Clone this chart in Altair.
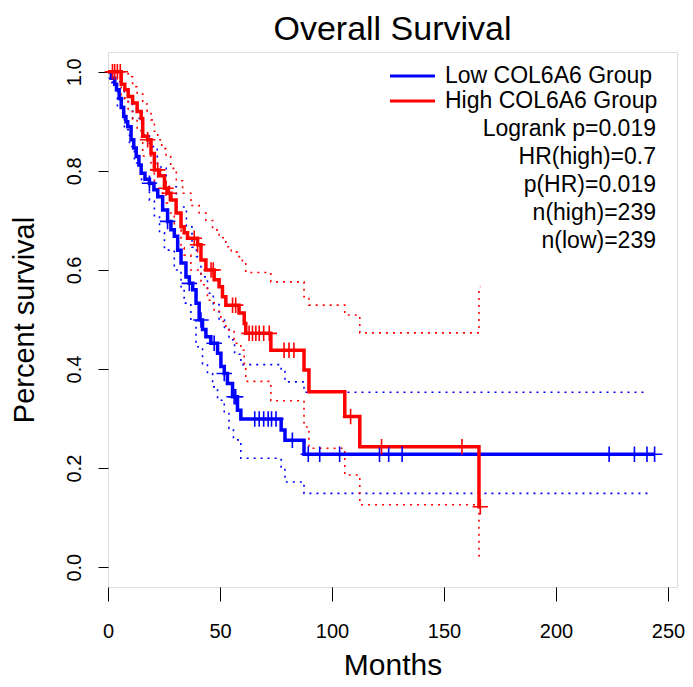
import altair as alt
import pandas as pd

LOW = "Low COL6A6 Group"
HIGH = "High COL6A6 Group"

# ---- Kaplan-Meier estimate, Low group (step starts: months, survival) ----
low_t = [0, 1.5, 3, 3.8, 5, 5.9, 7, 8, 8.8, 10.3, 11.5, 12.6, 13.8, 14.8, 16.5, 18.5,
         20.5, 22.2, 24.4, 26.6, 28.1, 29.6, 31.1, 32.6, 34.8, 36.3, 37.8, 39.3, 40.7,
         42.2, 43.7, 45.9, 48.9, 50.4, 51.9, 53.3, 55.6, 57.8, 59.3, 77.3, 79, 87.5, 244]
low_s = [1.0, 0.987, 0.975, 0.964, 0.946, 0.928, 0.91, 0.899, 0.889, 0.863, 0.846, 0.829,
         0.812, 0.795, 0.783, 0.775, 0.762, 0.748, 0.721, 0.698, 0.681, 0.668, 0.640, 0.614,
         0.586, 0.573, 0.560, 0.533, 0.499, 0.480, 0.465, 0.452, 0.432, 0.405, 0.391, 0.371,
         0.344, 0.317, 0.299, 0.277, 0.256, 0.228, 0.228]
low_cens = [18.5, 26.6, 36.3, 41.5, 47.4, 51.9, 56.3, 57, 65.5, 67.5, 69.5, 71.5, 73, 75,
            82.3, 89.4, 94.5, 103.4, 121.2, 125.3, 131.3, 223.7, 235, 240.6, 244]

# 95% CI, Low group
low_up_t = [0, 2, 7.3, 11, 15, 18.5, 22, 26, 30.5, 35, 37.5, 39.5, 41.5, 44.4, 47, 49.6,
            52, 54, 56.5, 59.3, 77.3, 79, 87.5, 241]
low_up_s = [1.0, 0.98, 0.94, 0.906, 0.873, 0.849, 0.808, 0.768, 0.727, 0.687, 0.646, 0.627,
            0.586, 0.553, 0.53, 0.499, 0.48, 0.459, 0.43, 0.409, 0.395, 0.374, 0.353, 0.353]
low_lo_t = [0, 0.7, 4.2, 7.3, 9.6, 11.8, 15, 18.5, 20.7, 23, 25.2, 29.6, 32.6, 34, 37, 39.3,
            42.2, 44.4, 46.7, 48.9, 51.9, 54, 56, 59.3, 77.3, 79, 87.5, 241]
low_lo_s = [1.0, 0.978, 0.93, 0.883, 0.849, 0.816, 0.782, 0.741, 0.707, 0.675, 0.64, 0.6,
            0.566, 0.533, 0.499, 0.445, 0.411, 0.391, 0.364, 0.337, 0.31, 0.28, 0.257, 0.22,
            0.2, 0.172, 0.149, 0.149]

# ---- Kaplan-Meier estimate, High group ----
high_t = [0, 5.9, 7.5, 9, 11, 13, 14.8, 15.5, 17.7, 19.2, 20.7, 23, 25.2, 26.6, 28.1, 30.4,
          32.6, 34, 35.5, 40, 41.5, 43.7, 47.4, 49.6, 51.1, 52.6, 58.5, 60.8, 61.5, 72.7,
          87.5, 89.7, 105.7, 112.4, 165.6, 166.2]
high_s = [1.0, 0.975, 0.964, 0.95, 0.937, 0.92, 0.906, 0.87, 0.863, 0.835, 0.802, 0.79,
          0.765, 0.755, 0.741, 0.715, 0.687, 0.675, 0.664, 0.651, 0.62, 0.60, 0.58, 0.566,
          0.546, 0.529, 0.513, 0.492, 0.472, 0.438, 0.398, 0.354, 0.304, 0.243, 0.122, 0.122]
high_cens = [2.0, 3.0, 4.2, 5.5, 17.7, 22.2, 25.9, 27.4, 38.5, 40, 46, 47, 55.6, 57,
             63, 64.5, 66, 67.5, 69.5, 72, 78.6, 80.8, 83, 108.3, 122.1, 158, 166.2]

# 95% CI, High group
high_up_t = [0, 9, 11, 13, 15.5, 17.5, 19.2, 20.7, 22.2, 24, 25.9, 28, 30.5, 33.3, 37, 40.7,
             43.7, 46.7, 49.6, 52.6, 55, 57.8, 60, 61.5, 72.7, 87.5, 89.7, 105.7, 112.4,
             165.6, 166.2]
high_up_s = [1.0, 0.99, 0.97, 0.955, 0.935, 0.92, 0.903, 0.88, 0.863, 0.845, 0.829, 0.805,
             0.78, 0.755, 0.73, 0.715, 0.70, 0.681, 0.665, 0.647, 0.636, 0.627, 0.614, 0.595,
             0.576, 0.546, 0.529, 0.509, 0.473, 0.566, 0.566]
high_lo_t = [0, 5.9, 7.5, 9, 11, 13, 14.8, 15.5, 19.2, 20.7, 24.4, 26.6, 29.6, 32.6, 34, 37,
             41.5, 44.4, 47.4, 50.4, 52.6, 56.3, 59.3, 60.8, 61.5, 72.7, 87.5, 89.7, 105.7,
             112.4, 165.6, 166.2]
high_lo_s = [1.0, 0.95, 0.94, 0.92, 0.905, 0.885, 0.869, 0.83, 0.795, 0.76, 0.735, 0.715,
             0.681, 0.645, 0.63, 0.60, 0.57, 0.539, 0.516, 0.496, 0.479, 0.452, 0.438, 0.411,
             0.375, 0.336, 0.283, 0.24, 0.186, 0.126, 0.023, 0.023]

legend_labels = [LOW, HIGH]
legend_colors = ["#0000FF", "#FF0000"]
stats = ["Logrank p=0.019", "HR(high)=0.7", "p(HR)=0.019", "n(high)=239", "n(low)=239"]
x_ticks = [0, 50, 100, 150, 200, 250]
y_ticks = [0.0, 0.2, 0.4, 0.6, 0.8, 1.0]
title_text = "Overall Survival"


def steps(group, name, ts, ss):
    return pd.DataFrame({"group": group, "series": name, "t": ts, "s": ss,
                         "i": range(len(ts))})


def step_value(ts, ss, x):
    v = ss[0]
    for t, s in zip(ts, ss):
        if t <= x:
            v = s
    return v


main_df = pd.concat([steps(LOW, "low", low_t, low_s), steps(HIGH, "high", high_t, high_s)])
ci_df = pd.concat([
    steps(LOW, "low_up", low_up_t, low_up_s), steps(LOW, "low_lo", low_lo_t, low_lo_s),
    steps(HIGH, "high_up", high_up_t, high_up_s), steps(HIGH, "high_lo", high_lo_t, high_lo_s),
])
cens_df = pd.DataFrame(
    [{"group": LOW, "t": c, "s": step_value(low_t, low_s, c)} for c in low_cens]
    + [{"group": HIGH, "t": c, "s": step_value(high_t, high_s, c)} for c in high_cens]
)

FONT = "Liberation Sans, Arial, sans-serif"

color_scale = alt.Scale(domain=legend_labels, range=legend_colors)
x_enc = alt.X("t:Q", scale=alt.Scale(domain=[0, 254], nice=False, zero=False),
              axis=alt.Axis(values=x_ticks, title="Months", grid=False, domain=False,
                            tickColor="black", tickSize=14, tickWidth=1,
                            labelFont=FONT, labelFontSize=20, labelColor="black",
                            labelPadding=20, labelFlush=False,
                            titleFont=FONT, titleFontSize=30, titleFontWeight="normal",
                            titleColor="black", titleY=78, titleBaseline="middle"))
y_enc = alt.Y("s:Q", scale=alt.Scale(domain=[-0.04, 1.04], nice=False, zero=False),
              axis=alt.Axis(values=y_ticks, format=".1f", title="Percent survival",
                            grid=False, domain=False, tickColor="black", tickSize=10,
                            tickWidth=1, labelFont=FONT, labelFontSize=20,
                            labelColor="black", labelAngle=270, labelAlign="center",
                            labelBaseline="alphabetic", labelPadding=18, labelFlush=False,
                            titleFont=FONT, titleFontSize=29, titleFontWeight="normal",
                            titleColor="black", titleX=-84, titleAngle=270,
                            titleBaseline="middle"))

ci = alt.Chart(ci_df).mark_line(interpolate="step-after", strokeDash=[2, 5],
                                strokeWidth=1.6).encode(
    x=x_enc, y=y_enc,
    color=alt.Color("group:N", scale=color_scale, legend=None),
    detail="series:N", order="i:Q")

main = alt.Chart(main_df).mark_line(interpolate="step-after", strokeWidth=3.5).encode(
    x="t:Q", y="s:Q",
    color=alt.Color("group:N", scale=color_scale, legend=None),
    detail="series:N", order="i:Q")

cens = alt.Chart(cens_df).mark_point(shape="M-1,0L1,0M0,-1L0,1", filled=False, size=240,
                                     strokeWidth=1.6, opacity=1).encode(
    x="t:Q", y="s:Q", color=alt.Color("group:N", scale=color_scale, legend=None))

layers = [ci, main, cens]

# legend (line keys + labels) in the top-right corner of the plot
for k, (lab, col) in enumerate(zip(legend_labels, legend_colors)):
    ldf = pd.DataFrame({"lab": [lab]})
    layers.append(alt.Chart(ldf).mark_rule(color=col, strokeWidth=3).encode(
        x=alt.value(282), x2=alt.value(327), y=alt.value(24 + 25 * k)))
    layers.append(alt.Chart(ldf).mark_text(
        align="left", baseline="middle", font=FONT, fontSize=23, color="black").encode(
        x=alt.value(337), y=alt.value(24 + 25 * k), text="lab:N"))

for k, txt in enumerate(stats):
    layers.append(alt.Chart(pd.DataFrame({"txt": [txt]})).mark_text(
        align="right", baseline="middle", font=FONT, fontSize=23, color="black").encode(
        x=alt.value(548), y=alt.value(77 + 28 * k), text="txt:N"))

# chart title, centred over the plot frame
layers.append(alt.Chart(pd.DataFrame({"txt": [title_text]})).mark_text(
    align="center", baseline="alphabetic", font=FONT, fontSize=34, color="black").encode(
    x=alt.value(284.5), y=alt.value(-12), text="txt:N"))

chart = alt.layer(*layers).properties(
    width=569, height=535,
    autosize=alt.AutoSizeParams(type="none"),
    padding={"left": 100, "top": 44, "right": 8, "bottom": 92},
).configure_view(stroke="black", strokeWidth=1.2).configure(background="white")

chart.save("out.html", embed_options={"renderer": "svg", "actions": False})
